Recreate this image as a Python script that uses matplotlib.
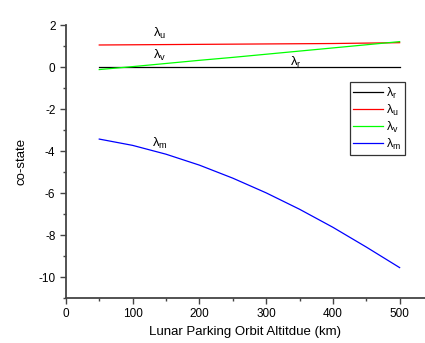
import matplotlib
matplotlib.use("Agg")
import matplotlib.pyplot as plt
from matplotlib.ticker import MultipleLocator

plt.rcParams['font.family'] = ['Liberation Sans', 'DejaVu Sans']
plt.rcParams['mathtext.fontset'] = 'custom'
plt.rcParams['mathtext.rm'] = 'Liberation Sans'
plt.rcParams['mathtext.it'] = 'Liberation Sans'
plt.rcParams['axes.unicode_minus'] = False

# Altitude grid (km) and co-state histories
altitude = [50, 100, 150, 200, 250, 300, 350, 400, 450, 500]
lam_r = [0, 0, 0, 0, 0, 0, 0, 0, 0, 0]
lam_u = [1.05, 1.06, 1.07, 1.08, 1.09, 1.10, 1.11, 1.12, 1.14, 1.16]
lam_v = [-0.12, 0.02, 0.17, 0.32, 0.46, 0.61, 0.76, 0.91, 1.06, 1.21]
lam_m = [-3.43, -3.73, -4.15, -4.67, -5.29, -5.99, -6.77, -7.63, -8.57, -9.55]

series_labels = [r'$\lambda_r$', r'$\lambda_u$', r'$\lambda_v$', r'$\lambda_m$']
series_colors = ['black', '#ff0000', '#00ff00', '#0000ff']

fig = plt.figure(figsize=(4.25, 3.43), dpi=100)
ax = fig.add_axes([0.155, 0.131, 0.845, 0.796])

for ys, lab, col in zip([lam_r, lam_u, lam_v, lam_m], series_labels, series_colors):
    ax.plot(altitude, ys, color=col, lw=0.9, label=lab)

ax.set_xlim(0, 538)
ax.set_ylim(-11, 2)
ax.xaxis.set_major_locator(MultipleLocator(100))
ax.xaxis.set_minor_locator(MultipleLocator(50))
ax.yaxis.set_major_locator(MultipleLocator(2))
ax.yaxis.set_minor_locator(MultipleLocator(1))

for s in ['top', 'right']:
    ax.spines[s].set_visible(False)
for s in ['left', 'bottom']:
    ax.spines[s].set_linewidth(1.3)
    ax.spines[s].set_color('#444444')

ax.tick_params(which='major', direction='out', length=4, width=1, colors='#444444',
               labelcolor='black', labelsize=8.5)
ax.tick_params(which='minor', direction='out', length=2.5, width=1, colors='#444444')

ax.set_xlabel('Lunar Parking Orbit Altitdue (km)', fontsize=9.5, labelpad=4)
ax.set_ylabel('co-state', fontsize=9.5, labelpad=8)

# Curve annotations
ax.text(141, 1.62, r'$\lambda_u$', fontsize=9.5, ha='center', va='center')
ax.text(141, 0.57, r'$\lambda_v$', fontsize=9.5, ha='center', va='center')
ax.text(345, 0.24, r'$\lambda_r$', fontsize=9.5, ha='center', va='center')
ax.text(141, -3.62, r'$\lambda_m$', fontsize=9.5, ha='center', va='center')

leg = ax.legend(loc='upper left', bbox_to_anchor=(0.79, 0.79), fontsize=9,
                frameon=True, fancybox=False, handlelength=2.4, handletextpad=0.3,
                borderpad=0.25, labelspacing=0.15, borderaxespad=0)
leg.get_frame().set_edgecolor('black')
leg.get_frame().set_linewidth(0.9)

fig.savefig('out.png', dpi=100)
